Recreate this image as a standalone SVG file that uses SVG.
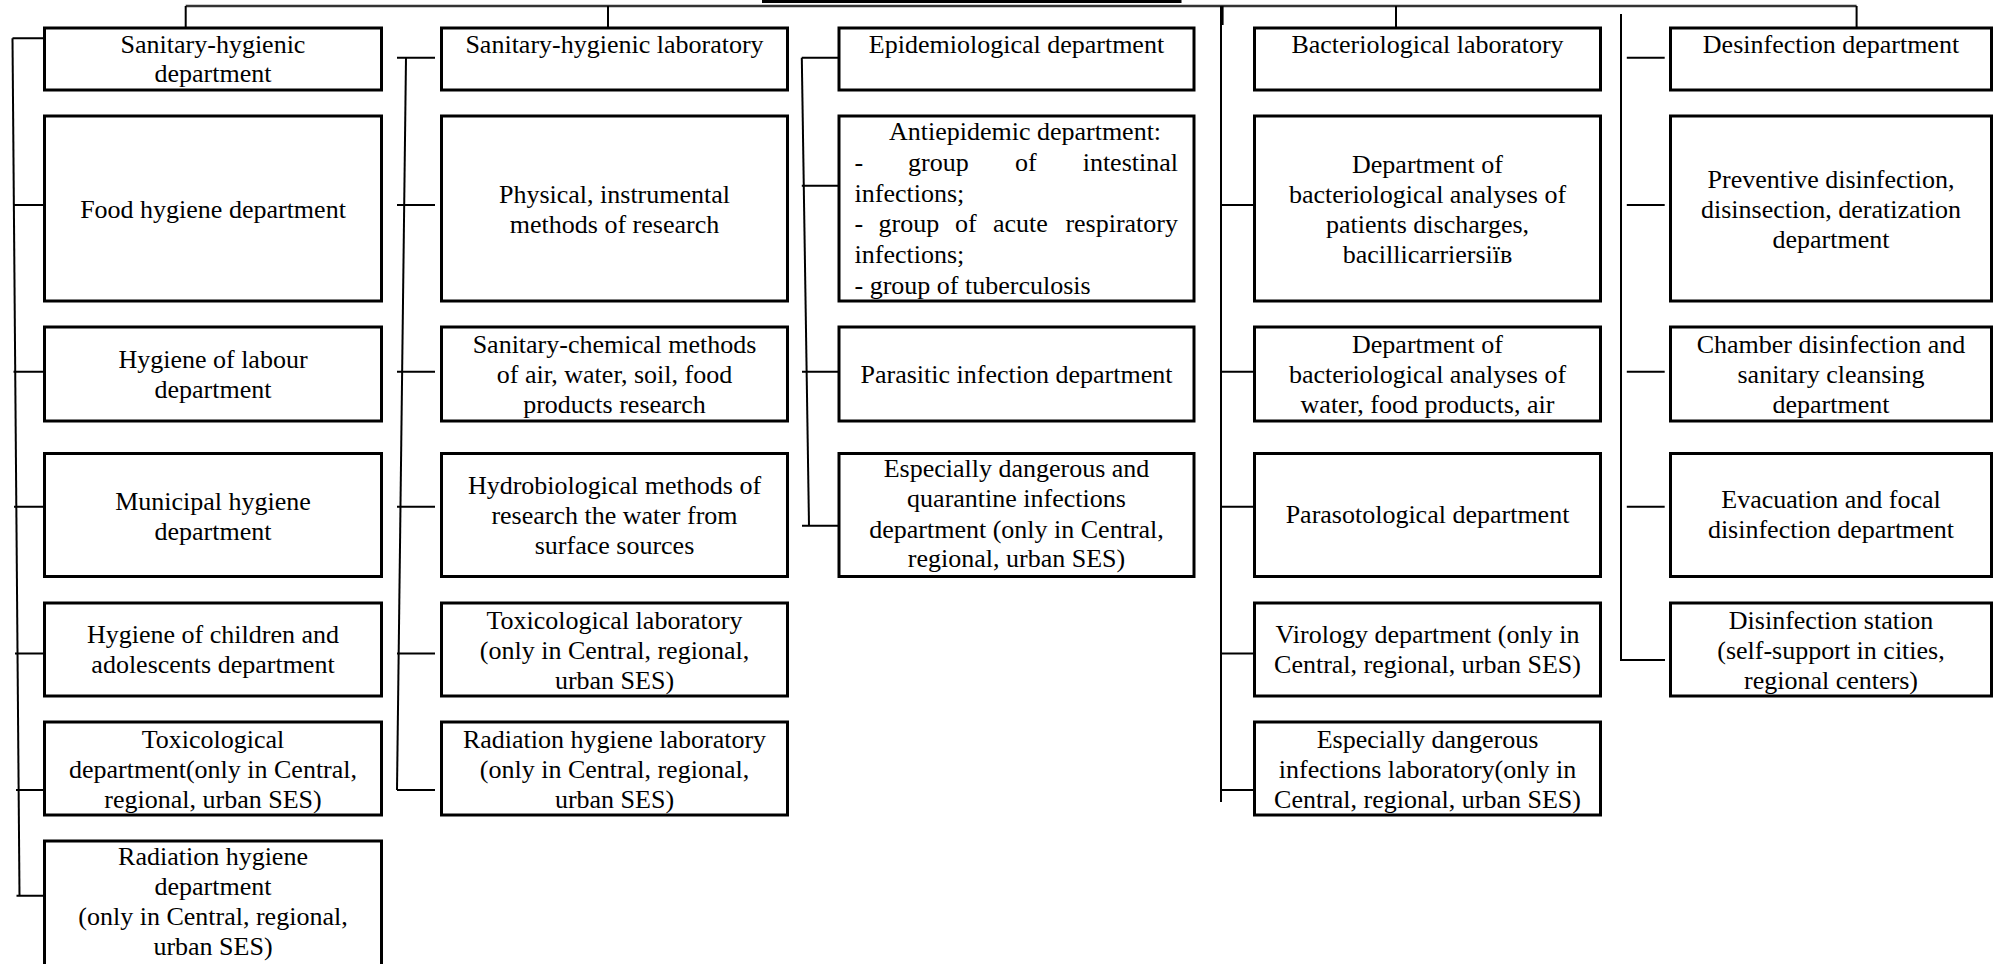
<svg xmlns="http://www.w3.org/2000/svg" width="1993" height="964" viewBox="0 0 1993 964">
<style>
.box{fill:#fff;stroke:#000;stroke-width:3}
.t{font-family:"Liberation Serif","Times New Roman",serif;font-size:26px;fill:#000;text-anchor:middle}
.l{text-anchor:start}
.e{text-anchor:end}
.c{stroke:#000;stroke-width:2;fill:none}
.top{stroke:#333;stroke-width:2.4;fill:none}
</style>
<rect width="1993" height="964" fill="#fff"/>
<g id="connectors">
<path class="top" d="M185.7 6H1856.6"/>
<path class="c" d="M185.7 6V28M608 6V29M1396 6V28M1856.6 6V28"/>
<path d="M1222 6V25" stroke="#000" stroke-width="3.2"/>
<path class="c" d="M1221 6V802"/>
<path class="c" d="M1221 205H1260.5M1221 371.7H1260.5M1221 506.7H1260.5M1221 653.5H1260.5M1221 790H1260.5"/>
<path class="c" d="M12.5 38.3L19.5 895.7"/>
<path class="c" d="M12.5 38.3H51M13 205H51M13.5 371.7H51M14 506.7H51M15 653.5H51M16 790H51M16.5 895.7H51"/>
<path class="c" d="M406 57.7L397 790"/>
<path class="c" d="M397 57.7H435M397 205H435M397 371.7H435M397 506.7H435M397 653.5H435M397 790H435"/>
<path class="c" d="M801.8 57.7L809 525.7"/>
<path class="c" d="M801.8 57.7H839M801.8 185.7H839M802 371.7H839M802 525.7H839"/>
<path class="c" d="M1621 14V660H1665"/>
<path class="c" d="M1626.8 57.7H1664.7M1626.8 205H1664.7M1626.8 371.7H1664.7M1626.8 506.7H1664.7"/>
</g>
<g id="root"><rect class="box" x="763.5" y="-40" width="416.5" height="41.5"/></g>
<!-- Column 1 -->
<g id="c1r1"><rect class="box" x="44.5" y="28" width="337" height="62"/><text class="t" x="213" y="53">Sanitary-hygienic</text><text class="t" x="213" y="82">department</text></g>
<g id="c1r2"><rect class="box" x="44.5" y="116" width="337" height="185"/><text class="t" x="213" y="217.5">Food hygiene department</text></g>
<g id="c1r3"><rect class="box" x="44.5" y="327" width="337" height="94"/><text class="t" x="213" y="368">Hygiene of labour</text><text class="t" x="213" y="398">department</text></g>
<g id="c1r4"><rect class="box" x="44.5" y="453.5" width="337" height="123"/><text class="t" x="213" y="509.5">Municipal hygiene</text><text class="t" x="213" y="539.5">department</text></g>
<g id="c1r5"><rect class="box" x="44.5" y="603" width="337" height="93"/><text class="t" x="213" y="642.5">Hygiene of children and</text><text class="t" x="213" y="672.5">adolescents department</text></g>
<g id="c1r6"><rect class="box" x="44.5" y="722" width="337" height="93"/><text class="t" x="213" y="747.5">Toxicological</text><text class="t" x="213" y="777.5">department(only in Central,</text><text class="t" x="213" y="807.5">regional, urban SES)</text></g>
<g id="c1r7"><rect class="box" x="44.5" y="841" width="337" height="130"/><text class="t" x="213" y="865">Radiation hygiene</text><text class="t" x="213" y="895">department</text><text class="t" x="213" y="925">(only in Central, regional,</text><text class="t" x="213" y="955">urban SES)</text></g>
<!-- Column 2 -->
<g id="c2r1"><rect class="box" x="441.5" y="28" width="346" height="62"/><text class="t" x="614.5" y="53">Sanitary-hygienic laboratory</text></g>
<g id="c2r2"><rect class="box" x="441.5" y="116" width="346" height="185"/><text class="t" x="614.5" y="202.5">Physical, instrumental</text><text class="t" x="614.5" y="232.5">methods of research</text></g>
<g id="c2r3"><rect class="box" x="441.5" y="327" width="346" height="94"/><text class="t" x="614.5" y="353">Sanitary-chemical methods</text><text class="t" x="614.5" y="383">of air, water, soil, food</text><text class="t" x="614.5" y="413">products research</text></g>
<g id="c2r4"><rect class="box" x="441.5" y="453.5" width="346" height="123"/><text class="t" x="614.5" y="494">Hydrobiological methods of</text><text class="t" x="614.5" y="524">research the water from</text><text class="t" x="614.5" y="554">surface sources</text></g>
<g id="c2r5"><rect class="box" x="441.5" y="603" width="346" height="93"/><text class="t" x="614.5" y="628.5">Toxicological laboratory</text><text class="t" x="614.5" y="658.5">(only in Central, regional,</text><text class="t" x="614.5" y="688.5">urban SES)</text></g>
<g id="c2r6"><rect class="box" x="441.5" y="722" width="346" height="93"/><text class="t" x="614.5" y="747.5">Radiation hygiene laboratory</text><text class="t" x="614.5" y="777.5">(only in Central, regional,</text><text class="t" x="614.5" y="807.5">urban SES)</text></g>
<!-- Column 3 -->
<g id="c3r1"><rect class="box" x="839" y="28" width="355" height="62"/><text class="t" x="1016.5" y="53">Epidemiological department</text></g>
<g id="c3r2"><rect class="box" x="839" y="116" width="355" height="185"/>
<text class="t" x="1025" y="140">Antiepidemic department:</text>
<text class="t l" x="854.5" y="171">-</text><text class="t l" x="908" y="171">group</text><text class="t l" x="1015" y="171">of</text><text class="t e" x="1178" y="171">intestinal</text>
<text class="t l" x="854.5" y="201.5">infections;</text>
<text class="t l" x="854.5" y="232">-</text><text class="t l" x="878.6" y="232">group</text><text class="t l" x="955" y="232">of</text><text class="t l" x="992.9" y="232">acute</text><text class="t e" x="1178" y="232">respiratory</text>
<text class="t l" x="854.5" y="263">infections;</text>
<text class="t l" x="854.5" y="293.5">- group of tuberculosis</text></g>
<g id="c3r3"><rect class="box" x="839" y="327" width="355" height="94"/><text class="t" x="1016.5" y="383">Parasitic infection department</text></g>
<g id="c3r4"><rect class="box" x="839" y="453.5" width="355" height="123"/><text class="t" x="1016.5" y="477">Especially dangerous and</text><text class="t" x="1016.5" y="507">quarantine infections</text><text class="t" x="1016.5" y="537.5">department (only in Central,</text><text class="t" x="1016.5" y="567">regional, urban SES)</text></g>
<!-- Column 4 -->
<g id="c4r1"><rect class="box" x="1254.5" y="28" width="346" height="62"/><text class="t" x="1427.5" y="53">Bacteriological laboratory</text></g>
<g id="c4r2"><rect class="box" x="1254.5" y="116" width="346" height="185"/><text class="t" x="1427.5" y="172.5">Department of</text><text class="t" x="1427.5" y="202.5">bacteriological analyses of</text><text class="t" x="1427.5" y="232.5">patients discharges,</text><text class="t" x="1427.5" y="262.5">bacillicarriersiїв</text></g>
<g id="c4r3"><rect class="box" x="1254.5" y="327" width="346" height="94"/><text class="t" x="1427.5" y="353">Department of</text><text class="t" x="1427.5" y="383">bacteriological analyses of</text><text class="t" x="1427.5" y="413">water, food products, air</text></g>
<g id="c4r4"><rect class="box" x="1254.5" y="453.5" width="346" height="123"/><text class="t" x="1427.5" y="523">Parasotological department</text></g>
<g id="c4r5"><rect class="box" x="1254.5" y="603" width="346" height="93"/><text class="t" x="1427.5" y="642.5">Virology department (only in</text><text class="t" x="1427.5" y="672.5">Central, regional, urban SES)</text></g>
<g id="c4r6"><rect class="box" x="1254.5" y="722" width="346" height="93"/><text class="t" x="1427.5" y="747.5">Especially dangerous</text><text class="t" x="1427.5" y="777.5">infections laboratory(only in</text><text class="t" x="1427.5" y="807.5">Central, regional, urban SES)</text></g>
<!-- Column 5 -->
<g id="c5r1"><rect class="box" x="1670.5" y="28" width="321" height="62"/><text class="t" x="1831" y="53">Desinfection department</text></g>
<g id="c5r2"><rect class="box" x="1670.5" y="116" width="321" height="185"/><text class="t" x="1831" y="187.5">Preventive disinfection,</text><text class="t" x="1831" y="217.5">disinsection, deratization</text><text class="t" x="1831" y="247.5">department</text></g>
<g id="c5r3"><rect class="box" x="1670.5" y="327" width="321" height="94"/><text class="t" x="1831" y="353">Chamber disinfection and</text><text class="t" x="1831" y="383">sanitary cleansing</text><text class="t" x="1831" y="413">department</text></g>
<g id="c5r4"><rect class="box" x="1670.5" y="453.5" width="321" height="123"/><text class="t" x="1831" y="508">Evacuation and focal</text><text class="t" x="1831" y="538">disinfection department</text></g>
<g id="c5r5"><rect class="box" x="1670.5" y="603" width="321" height="93"/><text class="t" x="1831" y="628.5">Disinfection station</text><text class="t" x="1831" y="658.5">(self-support in cities,</text><text class="t" x="1831" y="688.5">regional centers)</text></g>
</svg>
